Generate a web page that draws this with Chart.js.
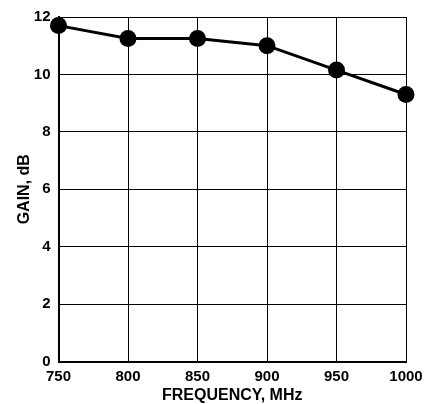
<!DOCTYPE html>
<html>
<head>
<meta charset="utf-8">
<script src="https://cdn.jsdelivr.net/npm/chart.js@4/dist/chart.umd.min.js"></script>
<style>html,body{margin:0;padding:0;background:#fff;}</style>
</head>
<body>
<canvas id="myChart" width="434" height="404"></canvas>
<script>
const frequencies = [750, 800, 850, 900, 950, 1000];
const gains = [11.7, 11.25, 11.25, 11.0, 10.15, 9.3];
const xTickLabels = ['750', '800', '850', '900', '950', '1000'];
const yTickLabels = ['0', '2', '4', '6', '8', '10', '12'];

const tickFont = { family: '"Liberation Sans", Arial, sans-serif', size: 15, weight: 'bold' };

const ctx = document.getElementById('myChart').getContext('2d');
const myChart = new Chart(ctx, {
    type: 'line',
    data: {
        datasets: [{
            data: frequencies.map((f, i) => ({ x: f, y: gains[i] })),
            borderColor: '#000',
            backgroundColor: '#000',
            borderWidth: 3,
            pointRadius: 8.5,
            pointBackgroundColor: '#000',
            pointBorderWidth: 0,
            tension: 0,
            clip: false
        }]
    },
    options: {
        responsive: false,
        animation: false,
        layout: {
            padding: { left: 0, top: 14, right: 28, bottom: 0 }
        },
        plugins: {
            legend: { display: false },
            tooltip: { enabled: false }
        },
        scales: {
            x: {
                type: 'linear',
                min: 750,
                max: 1000,
                afterBuildTicks: (scale) => {
                    scale.ticks = frequencies.map(v => ({ value: v }));
                },
                ticks: {
                    callback: (v, i) => xTickLabels[i],
                    color: '#000',
                    font: tickFont,
                    padding: 6,
                    maxRotation: 0
                },
                grid: { color: '#000', lineWidth: 1, drawTicks: false },
                border: { color: '#000', width: 2 },
                title: {
                    display: true,
                    text: 'FREQUENCY, MHz',
                    color: '#000',
                    font: { family: tickFont.family, size: 16, weight: 'bold', lineHeight: 1 },
                    padding: 0
                },
                afterFit: (scale) => { scale.height = 42.5; }
            },
            y: {
                min: 0,
                max: 12,
                afterBuildTicks: (scale) => {
                    scale.ticks = yTickLabels.map(v => ({ value: Number(v) }));
                },
                ticks: {
                    callback: (v, i) => yTickLabels[i],
                    color: '#000',
                    font: tickFont,
                    padding: 8
                },
                grid: { color: '#000', lineWidth: 1, drawTicks: false },
                border: { color: '#000', width: 2 },
                title: {
                    display: true,
                    text: 'GAIN, dB',
                    color: '#000',
                    font: { family: tickFont.family, size: 16, weight: 'bold' },
                    padding: { top: 15, bottom: 0 }
                },
                afterFit: (scale) => { scale.width = 58.5; }
            }
        }
    },
    plugins: [{
        id: 'background-colour',
        beforeDraw: (chart) => {
            const c = chart.canvas.getContext('2d');
            c.fillStyle = 'white';
            c.fillRect(0, 0, chart.width, chart.height);
        }
    }]
});
</script>
</body>
</html>
